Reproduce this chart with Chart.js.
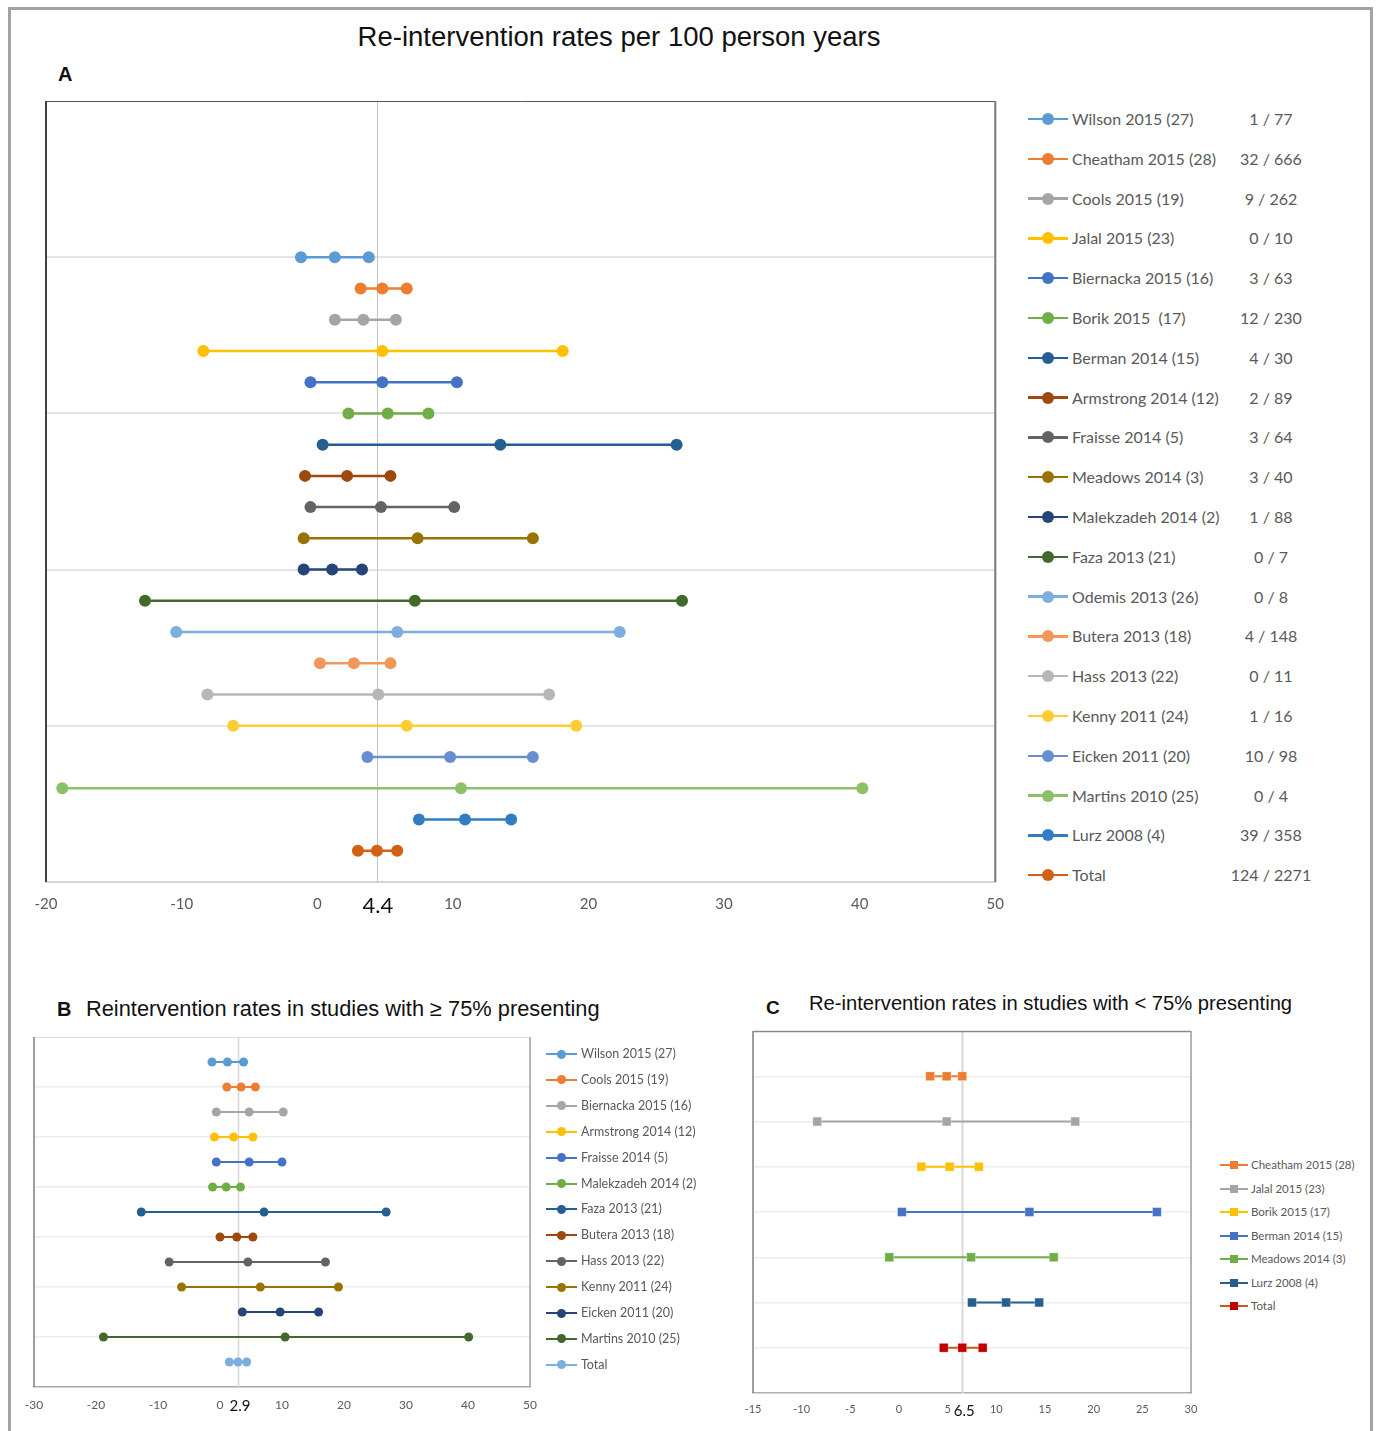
<!DOCTYPE html>
<html>
<head>
<meta charset="utf-8">
<script src="https://cdn.jsdelivr.net/npm/chart.js@4.4.1/dist/chart.umd.min.js"></script>
<style>
  html, body { margin: 0; padding: 0; background: #fff; }
  body { width: 1377px; height: 1431px; position: relative; overflow: hidden; font-family: Lato, "Open Sans", sans-serif; }
  #frame { position: absolute; left: 8px; top: 7px; width: 1365px; height: 1440px; border: 3px solid #a3a3a3; border-bottom: none; box-sizing: border-box; }
  canvas { position: absolute; }
  .ttl { position: absolute; font-family: "Liberation Sans", Arial, sans-serif; color: #111; white-space: nowrap; }
  .leg { position: absolute; white-space: pre; color: #595959; font-family: Lato, sans-serif; }
  .sw { position: absolute; }
</style>
</head>
<body>
<div id="frame"></div>

<div class="ttl" style="left:0;width:1238px;text-align:center;top:21px;font-size:27.5px;line-height:32px;">Re-intervention rates per 100 person years</div>
<div class="ttl" style="left:58px;top:62px;font-size:20px;line-height:24px;font-weight:bold;">A</div>
<div class="ttl" style="left:57px;top:997px;font-size:20px;line-height:24px;font-weight:bold;">B</div>
<div class="ttl" style="left:86px;top:996px;font-size:21.8px;line-height:26px;">Reintervention rates in studies with ≥ 75% presenting</div>
<div class="ttl" style="left:766px;top:996px;font-size:19px;line-height:24px;font-weight:bold;">C</div>
<div class="ttl" style="left:809px;top:991px;font-size:20.2px;line-height:24px;">Re-intervention rates in studies with &lt; 75% presenting</div>

<canvas id="chartA" width="1017" height="930" style="left:0;top:0;"></canvas>
<canvas id="chartB" width="548" height="405" style="left:0;top:1020px;"></canvas>
<canvas id="chartC" width="490" height="410" style="left:720px;top:1015px;"></canvas>
<div id="legends"></div>

<script>
// ---------- A: all studies ----------
const studiesA = ['Wilson 2015 (27)', 'Cheatham 2015 (28)', 'Cools 2015 (19)', 'Jalal 2015 (23)',
  'Biernacka 2015 (16)', 'Borik 2015  (17)', 'Berman 2014 (15)', 'Armstrong 2014 (12)',
  'Fraisse 2014 (5)', 'Meadows 2014 (3)', 'Malekzadeh 2014 (2)', 'Faza 2013 (21)',
  'Odemis 2013 (26)', 'Butera 2013 (18)', 'Hass 2013 (22)', 'Kenny 2011 (24)',
  'Eicken 2011 (20)', 'Martins 2010 (25)', 'Lurz 2008 (4)', 'Total'];
const eventsA = ['1 / 77', '32 / 666', '9 / 262', '0 / 10', '3 / 63', '12 / 230', '4 / 30', '2 / 89',
  '3 / 64', '3 / 40', '1 / 88', '0 / 7', '0 / 8', '4 / 148', '0 / 11', '1 / 16', '10 / 98', '0 / 4',
  '39 / 358', '124 / 2271'];
const lowA  = [-1.2, 3.2, 1.3, -8.4, -0.5, 2.3, 0.4, -0.9, -0.5, -1.0, -1.0, -12.7, -10.4, 0.2, -8.1, -6.2, 3.7, -18.8, 7.5, 3.0];
const rateA = [1.3, 4.8, 3.4, 4.8, 4.8, 5.2, 13.5, 2.2, 4.7, 7.4, 1.1, 7.2, 5.9, 2.7, 4.5, 6.6, 9.8, 10.6, 10.9, 4.4];
const highA = [3.8, 6.6, 5.8, 18.1, 10.3, 8.2, 26.5, 5.4, 10.1, 15.9, 3.3, 26.9, 22.3, 5.4, 17.1, 19.1, 15.9, 40.2, 14.3, 5.9];
const ticksA = [-20, -10, 0, 10, 20, 30, 40, 50];
const pooledA = 4.4;

// ---------- B: studies with >= 75% presenting ----------
const studiesB = ['Wilson 2015 (27)', 'Cools 2015 (19)', 'Biernacka 2015 (16)', 'Armstrong 2014 (12)',
  'Fraisse 2014 (5)', 'Malekzadeh 2014 (2)', 'Faza 2013 (21)', 'Butera 2013 (18)', 'Hass 2013 (22)',
  'Kenny 2011 (24)', 'Eicken 2011 (20)', 'Martins 2010 (25)', 'Total'];
const lowB  = [-1.3, 1.1, -0.6, -0.9, -0.6, -1.2, -12.7, 0.0, -8.2, -6.2, 3.6, -18.8, 1.5];
const rateB = [1.2, 3.4, 4.7, 2.2, 4.7, 1.0, 7.1, 2.7, 4.5, 6.5, 9.7, 10.5, 2.9];
const highB = [3.8, 5.7, 10.2, 5.3, 10.0, 3.3, 26.8, 5.3, 17.0, 19.1, 15.9, 40.1, 4.3];
const ticksB = [-30, -20, -10, 0, 10, 20, 30, 40, 50];
const pooledB = 2.9;

// ---------- C: studies with < 75% presenting ----------
const studiesC = ['Cheatham 2015 (28)', 'Jalal 2015 (23)', 'Borik 2015 (17)', 'Berman 2014 (15)',
  'Meadows 2014 (3)', 'Lurz 2008 (4)', 'Total'];
const lowC  = [3.2, -8.4, 2.3, 0.3, -1.0, 7.5, 4.6];
const rateC = [4.9, 4.9, 5.2, 13.4, 7.4, 11.0, 6.5];
const highC = [6.5, 18.1, 8.2, 26.5, 15.9, 14.4, 8.6];
const ticksC = [-15, -10, -5, 0, 5, 10, 15, 20, 25, 30];
const pooledC = 6.5;

// Series colours (Office palette order)
const colorsA = ['#5B9BD5', '#ED7D31', '#A5A5A5', '#FFC000', '#4472C4', '#70AD47', '#255E91', '#9E480E',
  '#636363', '#997300', '#264478', '#43682B', '#7CAFDD', '#F1975A', '#B7B7B7', '#FFCD33', '#698ED0',
  '#8CC168', '#327DC2', '#D26012'];
const colorsB = ['#5B9BD5', '#ED7D31', '#A5A5A5', '#FFC000', '#4472C4', '#70AD47', '#255E91', '#9E480E',
  '#636363', '#997300', '#264478', '#43682B', '#7CAFDD'];
const lineColorsC = ['#ED7D31', '#A5A5A5', '#FFC000', '#4472C4', '#70AD47', '#255E91', '#C55A11'];
const pointColorsC = ['#ED7D31', '#A5A5A5', '#FFC000', '#4472C4', '#70AD47', '#255E91', '#C00000'];

// Pooled-rate reference line, plot frame and pooled-rate label
const panelDecor = {
  id: 'panelDecor',
  beforeDatasetsDraw(chart, args, o) {
    const { ctx, chartArea: a } = chart;
    const x = Math.round(chart.scales.x.getPixelForValue(o.center)) + 0.5;
    ctx.save();
    ctx.strokeStyle = o.refColor;
    ctx.lineWidth = o.refWidth;
    ctx.beginPath();
    ctx.moveTo(x, a.top);
    ctx.lineTo(x, a.bottom);
    ctx.stroke();
    ctx.restore();
  },
  afterDraw(chart, args, o) {
    const { ctx, chartArea: a } = chart;
    ctx.save();
    const line = (c, w, x1, y1, x2, y2) => {
      ctx.strokeStyle = c; ctx.lineWidth = w;
      ctx.beginPath(); ctx.moveTo(x1, y1); ctx.lineTo(x2, y2); ctx.stroke();
    };
    const f = o.frame;
    line(f.top[0], f.top[1], a.left, a.top + 0.5, a.right, a.top + 0.5);
    line(f.left[0], f.left[1], a.left, a.top, a.left, a.bottom);
    line(f.right[0], f.right[1], a.right, a.top, a.right, a.bottom);
    const x = chart.scales.x.getPixelForValue(o.center);
    ctx.fillStyle = '#111';
    ctx.font = o.labelFont;
    ctx.textAlign = 'center';
    ctx.textBaseline = 'middle';
    ctx.fillText(String(o.center), x + o.labelShift, a.bottom + o.labelOffset);
    ctx.restore();
  }
};

function makePanel(id, p) {
  const n = p.names.length;
  const datasets = p.names.map((name, i) => ({
    label: name,
    data: [p.low[i], p.rate[i], p.high[i]].map(v => ({ x: v, y: n - i })),
    showLine: true,
    borderColor: p.lineColors[i],
    borderWidth: p.lineWidth,
    backgroundColor: p.pointColors[i],
    pointBackgroundColor: p.pointColors[i],
    pointBorderColor: p.pointBorder || p.pointColors[i],
    pointBorderWidth: p.pointBorderWidth || 0,
    pointRadius: p.radius,
    pointHoverRadius: p.radius,
    pointStyle: p.pointStyle || 'circle'
  }));
  return new Chart(document.getElementById(id), {
    type: 'scatter',
    data: { datasets },
    plugins: [panelDecor],
    options: {
      responsive: false,
      animation: false,
      events: [],
      layout: { padding: p.padding },
      plugins: {
        legend: { display: false },
        tooltip: { enabled: false },
        panelDecor: {
          center: p.center, refColor: p.refColor, refWidth: p.refWidth,
          frame: p.frame, labelFont: p.labelFont, labelOffset: p.labelOffset, labelShift: p.labelShift || 0
        }
      },
      scales: {
        x: {
          type: 'linear',
          min: p.ticks[0],
          max: p.ticks[p.ticks.length - 1],
          afterBuildTicks: s => { s.ticks = p.ticks.map(v => ({ value: v })); },
          afterFit: s => { s.height = p.axisHeight; },
          grid: { display: false, drawTicks: false },
          border: { display: true, color: p.axisColor, width: p.axisWidth },
          ticks: { color: '#595959', font: { family: 'Lato', size: p.tickSize }, padding: p.tickPad, maxRotation: 0, autoSkip: false }
        },
        y: {
          type: 'linear',
          min: 0,
          max: p.yMax,
          afterBuildTicks: s => {
            const t = [];
            for (let v = 0; v <= p.yMax; v += p.gridStep) t.push({ value: v });
            s.ticks = t;
          },
          afterFit: s => { s.width = 0; },
          border: { display: false },
          ticks: { display: false },
          grid: {
            drawTicks: false,
            lineWidth: p.gridWidth,
            color: c => (c.tick.value > 0 && c.tick.value < p.yMax) ? p.gridColor : 'rgba(0,0,0,0)'
          }
        }
      }
    }
  });
}

makePanel('chartA', {
  names: studiesA, low: lowA, rate: rateA, high: highA, ticks: ticksA, center: pooledA,
  lineColors: colorsA, pointColors: colorsA, lineWidth: 2.5, radius: 6,
  yMax: 25, gridStep: 5, gridColor: '#e4e4e4', gridWidth: 2,
  padding: { left: 46, right: 8, top: 101, bottom: 0 }, axisHeight: 48,
  axisColor: '#d4d4d4', axisWidth: 2, tickSize: 15, tickPad: 13,
  refColor: '#c4c4c4', refWidth: 1,
  frame: { top: ['#555', 1], left: ['#404040', 2], right: ['#7a7a7a', 2] },
  labelFont: '22px Lato', labelOffset: 24, labelShift: 1
});

makePanel('chartB', {
  names: studiesB, low: lowB, rate: rateB, high: highB, ticks: ticksB, center: pooledB,
  lineColors: colorsB, pointColors: colorsB, lineWidth: 2, radius: 4.5,
  yMax: 14, gridStep: 2, gridColor: '#ececec', gridWidth: 1.5,
  padding: { left: 34, right: 12, top: 17, bottom: 0 }, axisHeight: 38,
  axisColor: '#a8a8a8', axisWidth: 1.5, tickSize: 12, tickPad: 11,
  refColor: '#d6d6d6', refWidth: 1.5,
  frame: { top: ['#dcdcdc', 1], left: ['#7f7f7f', 1.5], right: ['#a0a0a0', 1.5] },
  labelFont: '15px Lato', labelOffset: 19, labelShift: 2
});

makePanel('chartC', {
  names: studiesC, low: lowC, rate: rateC, high: highC, ticks: ticksC, center: pooledC,
  lineColors: lineColorsC, pointColors: pointColorsC, lineWidth: 2, radius: 6.2,
  pointStyle: 'rect', pointBorder: 'rgba(255,255,255,0.35)', pointBorderWidth: 0.8,
  yMax: 8, gridStep: 1, gridColor: '#ececec', gridWidth: 1.5,
  padding: { left: 33, right: 19, top: 16, bottom: 0 }, axisHeight: 32,
  axisColor: '#b0b0b0', axisWidth: 1.5, tickSize: 11, tickPad: 10,
  refColor: '#d9d9d9', refWidth: 2,
  frame: { top: ['#8a8a8a', 1.5], left: ['#7f7f7f', 1.5], right: ['#9a9a9a', 1.5] },
  labelFont: '15px Lato', labelOffset: 18, labelShift: 2
});

// ---------- legends ----------
function buildLegend(L) {
  const host = document.getElementById('legends');
  L.names.forEach((name, i) => {
    const cy = L.y0 + i * L.dy;
    const ln = document.createElement('div');
    ln.className = 'sw';
    ln.style.cssText = `left:${L.x1}px;top:${cy - L.lineW / 2}px;width:${L.x2 - L.x1}px;height:${L.lineW}px;background:${L.lineColors[i]};`;
    host.appendChild(ln);
    const mk = document.createElement('div');
    mk.className = 'sw';
    const m = L.marker;
    mk.style.cssText = `left:${L.mx - m / 2}px;top:${cy - m / 2}px;width:${m}px;height:${m}px;background:${L.pointColors[i]};border-radius:${L.square ? 0 : '50%'};`;
    host.appendChild(mk);
    const tx = document.createElement('div');
    tx.className = 'leg';
    tx.style.cssText = `left:${L.tx}px;top:${cy - L.lh / 2}px;font-size:${L.font}px;line-height:${L.lh}px;`;
    tx.textContent = name;
    host.appendChild(tx);
    if (L.counts) {
      const ct = document.createElement('div');
      ct.className = 'leg';
      ct.style.cssText = `left:${L.cx - 60}px;width:120px;text-align:center;top:${cy - L.lh / 2}px;font-size:${L.font}px;line-height:${L.lh}px;`;
      ct.textContent = L.counts[i];
      host.appendChild(ct);
    }
  });
}

buildLegend({ names: studiesA, counts: eventsA, lineColors: colorsA, pointColors: colorsA,
  y0: 119, dy: 39.8, x1: 1028, x2: 1068, mx: 1048, marker: 12, lineW: 2.5, tx: 1072, cx: 1271, font: 16, lh: 20 });
buildLegend({ names: studiesB, lineColors: colorsB, pointColors: colorsB,
  y0: 1054, dy: 25.9, x1: 546, x2: 577, mx: 561, marker: 9, lineW: 2, tx: 581, font: 12.5, lh: 16 });
buildLegend({ names: studiesC, lineColors: lineColorsC, pointColors: pointColorsC, square: true,
  y0: 1165, dy: 23.5, x1: 1220, x2: 1248, mx: 1234, marker: 8, lineW: 2, tx: 1251, font: 11.5, lh: 14 });
</script>
</body>
</html>
